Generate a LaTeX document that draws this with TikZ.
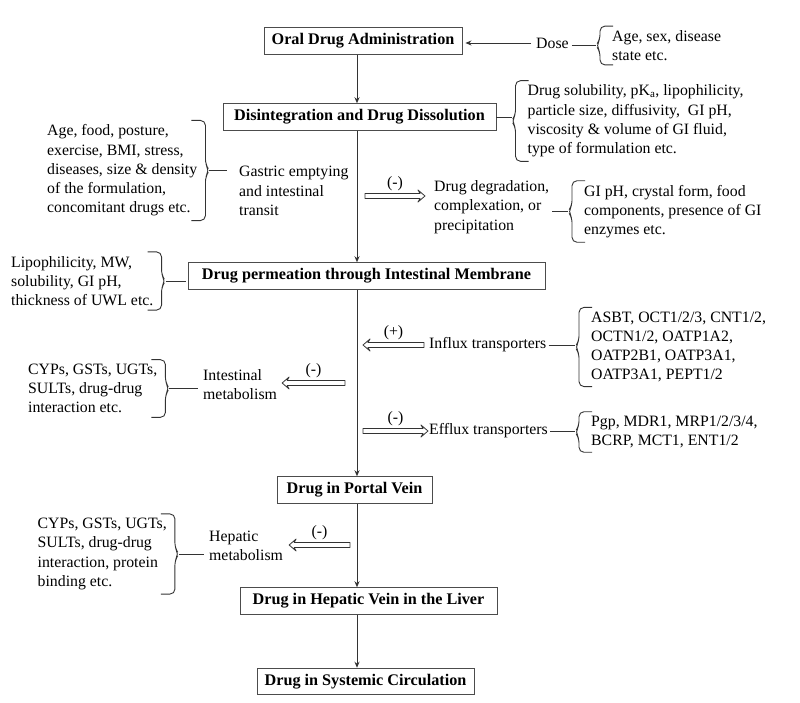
\documentclass[tikz,border=0pt]{standalone}
\usepackage{fontspec}
\setmainfont{Liberation Serif}
\usepackage{tikz}
\usetikzlibrary{arrows.meta}
\usetikzlibrary{calc}

\tikzset{
    stage/.style={draw=black!70, line width=0.9pt, font=\fontsize{16.2}{19.3}\selectfont\bfseries, minimum height=26.6pt, inner xsep=6pt, inner ysep=0pt},
    note/.style={align=left, inner sep=0pt, anchor=west, font=\fontsize{15.8}{19.3}\selectfont},
    sign/.style={inner sep=0pt, font=\fontsize{15.8}{19.3}\selectfont},
    flow/.style={draw=black!80, line width=0.9pt, -{Stealth[length=6pt,width=5pt]}},
    link/.style={draw=black!80, line width=0.9pt},
    effect/.style={draw=black!80, line width=0.8pt, line join=round},
    brc/.style={draw=black!80, line width=0.9pt, rounded corners=5pt}
}

\newcommand{\rightbrc}[2]{%
    \draw[brc] ([xshift=-6pt,yshift=4pt]#1.north east) -- ([xshift=8pt,yshift=4pt]#1.north east)
        -- ([xshift=8pt,yshift=6pt]#1.east) -- ([xshift=12pt]#1.east) coordinate (#2)
        -- ([xshift=8pt,yshift=-6pt]#1.east) -- ([xshift=8pt,yshift=-4pt]#1.south east)
        -- ([xshift=-6pt,yshift=-4pt]#1.south east);}
\newcommand{\leftbrc}[2]{%
    \draw[brc] ([xshift=1pt,yshift=4pt]#1.north west) -- ([xshift=-12pt,yshift=4pt]#1.north west)
        -- ([xshift=-12pt,yshift=6pt]#1.west) -- ([xshift=-16pt]#1.west) coordinate (#2)
        -- ([xshift=-12pt,yshift=-6pt]#1.west) -- ([xshift=-12pt,yshift=-4pt]#1.south west)
        -- ([xshift=1pt,yshift=-4pt]#1.south west);}
\newcommand{\effarrow}[2]{%
    \draw[effect] let \p1=(#1), \p2=(#2), \n1={sign(\x2-\x1)} in
        (\x1,\y1+2.5pt) -- (\x2-\n1*5pt,\y1+2.5pt) -- (\x2-\n1*7pt,\y1+6pt) -- (\x2,\y1)
        -- (\x2-\n1*7pt,\y1-6pt) -- (\x2-\n1*5pt,\y1-2.5pt) -- (\x1,\y1-2.5pt) -- cycle;}

\begin{document}
\begin{tikzpicture}[x=1pt,y=-1pt]
    \useasboundingbox (0,0) rectangle (800,703);
    \fill[white] (0,0) rectangle (800,703);
    \coordinate (ax) at (357,0);

    \node[stage, minimum width=198pt] (oral) at (363,41) {Oral Drug Administration};
    \node[stage, minimum width=273pt] (disint) at (359.5,117) {Disintegration and Drug Dissolution};
    \node[stage, minimum width=357pt] (perm) at (366.5,276) {Drug permeation through Intestinal Membrane};
    \node[stage, minimum width=155pt] (portal) at (354.5,490) {Drug in Portal Vein};
    \node[stage, minimum width=257pt] (hepatic) at (368.5,601) {Drug in Hepatic Vein in the Liver};
    \node[stage, minimum width=217pt] (systemic) at (365.5,681.5) {Drug in Systemic Circulation};

    \draw[flow] (oral.south -| ax) -- (disint.north -| ax);
    \draw[flow] (disint.south -| ax) -- (perm.north -| ax);
    \draw[flow] (perm.south -| ax) -- (portal.north -| ax);
    \draw[flow] (portal.south -| ax) -- (hepatic.north -| ax);
    \draw[flow] (hepatic.south -| ax) -- (systemic.north -| ax);

    \node[note] (dose) at (536,43) {Dose};
    \node[note] (agesex) at (612,45.5) {Age, sex, disease\\state etc.};
    \draw[flow, shorten <=5pt, shorten >=3pt] (dose.west) -- (dose.west -| oral.east);
    \leftbrc{agesex}{bsex}
    \draw[link, shorten <=3pt] (bsex -| dose.east) -- (bsex);

    \node[note] (solub) at (527.5,121) {Drug solubility, pK\textsubscript{a}, lipophilicity,\\particle size, diffusivity,\ \ GI pH,\\viscosity \& volume of GI fluid,\\type of formulation etc.};
    \leftbrc{solub}{bsol}
    \draw[link] (disint.east) -- (disint.east -| bsol);

    \node[note] (agefood) at (47,170.5) {Age, food, posture,\\exercise, BMI, stress,\\diseases, size \& density\\of the formulation,\\concomitant drugs etc.};
    \node[note] (gastric) at (239,191) {Gastric emptying\\and intestinal\\transit};
    \rightbrc{agefood}{bfood}
    \draw[link, shorten >=12pt] (bfood) -- (bfood -| gastric.west);

    \node[note] (degr) at (434,207) {Drug degradation,\\complexation, or\\precipitation};
    \node[note] (gi) at (584,211.5) {GI pH, crystal form, food\\components, presence of GI\\enzymes etc.};
    \coordinate (e1) at (365,196);
    \coordinate (f1) at ([xshift=-9pt]e1 -| degr.west);
    \effarrow{e1}{f1}
    \node[sign, above=5pt] (s1) at ($(e1)!0.5!(f1)$) {(-)};
    \leftbrc{gi}{bgi}
    \draw[link, shorten <=3pt] (bgi -| degr.east) -- (bgi);

    \node[note] (lipo) at (11,281) {Lipophilicity, MW,\\solubility, GI pH,\\thickness of UWL etc.};
    \rightbrc{lipo}{blipo}
    \draw[link, shorten >=2pt] (blipo) -- (blipo -| perm.west);

    \node[note] (influx) at (429,345) {Influx transporters};
    \node[note] (asbt) at (591,347) {ASBT, OCT1/2/3, CNT1/2,\\OCTN1/2, OATP1A2,\\OATP2B1, OATP3A1,\\OATP3A1, PEPT1/2};
    \coordinate (f2) at (363,345);
    \coordinate (e2) at ([xshift=-5pt]f2 -| influx.west);
    \effarrow{e2}{f2}
    \node[sign, above=5pt] (s2) at ($(e2)!0.5!(f2)$) {(+)};
    \leftbrc{asbt}{basbt}
    \draw[link, shorten <=2pt] (influx.east) -- (influx.east -| basbt);

    \node[note] (cyp1) at (28,388.5) {CYPs, GSTs, UGTs,\\SULTs, drug-drug\\interaction etc.};
    \node[note] (intmet) at (203,384.5) {Intestinal\\metabolism};
    \coordinate (e3) at (345,383);
    \coordinate (f3) at ([xshift=5pt]e3 -| intmet.east);
    \effarrow{e3}{f3}
    \node[sign, above=5pt] (s3) at ($(e3)!0.5!(f3)$) {(-)};
    \rightbrc{cyp1}{bcyp1}
    \draw[link, shorten >=5pt] (bcyp1) -- (bcyp1 -| intmet.west);

    \node[note] (efflux) at (429,431) {Efflux transporters};
    \node[note] (pgp) at (591,432) {Pgp, MDR1, MRP1/2/3/4,\\BCRP, MCT1, ENT1/2};
    \coordinate (e4) at (363,431);
    \coordinate (f4) at ([xshift=-1pt]e4 -| efflux.west);
    \effarrow{e4}{f4}
    \node[sign, above=5pt] (s4) at ($(e4)!0.5!(f4)$) {(-)};
    \leftbrc{pgp}{bpgp}
    \draw[link, shorten <=2pt] (efflux.east) -- (efflux.east -| bpgp);

    \node[note] (cyp2) at (37.5,554) {CYPs, GSTs, UGTs,\\SULTs, drug-drug\\interaction, protein\\binding etc.};
    \node[note] (hepmet) at (209,545.5) {Hepatic\\metabolism};
    \coordinate (e5) at (350,545);
    \coordinate (f5) at ([xshift=6pt]e5 -| hepmet.east);
    \effarrow{e5}{f5}
    \node[sign, above=5pt] (s5) at ($(e5)!0.5!(f5)$) {(-)};
    \rightbrc{cyp2}{bcyp2}
    \draw[link, shorten >=5pt] (bcyp2) -- (bcyp2 -| hepmet.west);
\end{tikzpicture}
\end{document}
